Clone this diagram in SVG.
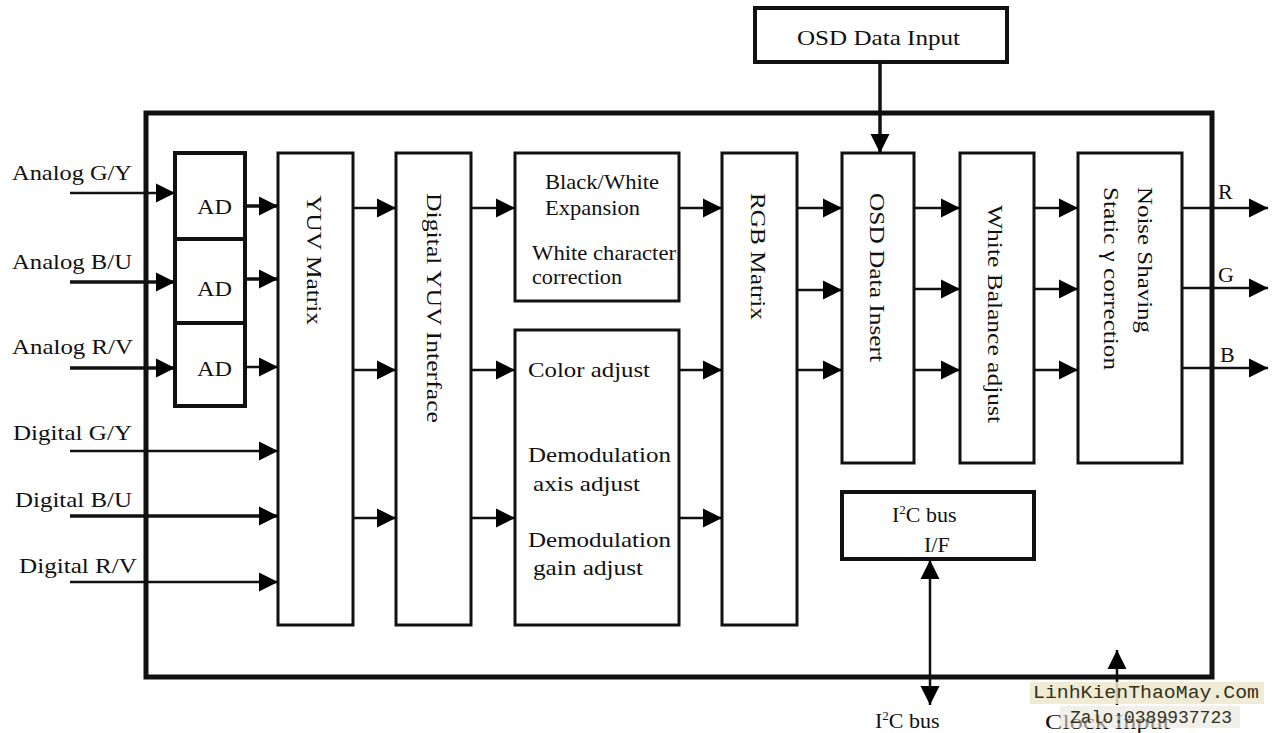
<svg xmlns="http://www.w3.org/2000/svg" width="1276" height="733" viewBox="0 0 1276 733">
<defs>
<marker id="arr" viewBox="0 0 20 20" markerWidth="19" markerHeight="20" refX="20" refY="10" orient="auto" markerUnits="userSpaceOnUse">
<path d="M0,0 L20,10 L0,20 z" fill="#000"/>
</marker>
<style>
.t{font-family:"Liberation Serif","Times New Roman",serif;font-size:22px;fill:#111}
.box{fill:#fff;stroke:#111;stroke-width:3}
.thick{fill:none;stroke:#111;stroke-width:4}
.ln{stroke:#111;stroke-width:2.5;fill:none}
.ln3{stroke:#111;stroke-width:3.5;fill:none}
.wm{font-family:"Liberation Mono","Courier New",monospace;font-size:19px;fill:#34321a}
</style>
</defs>
<rect width="1276" height="733" fill="#fff"/>

<g id="frame"><rect x="146" y="113" width="1066" height="564" fill="none" stroke="#111" stroke-width="5"/></g>

<g id="osd-input"><rect x="755" y="8" width="252" height="54" class="thick" fill="#fff"/><text class="t" x="797" y="45" textLength="163" lengthAdjust="spacingAndGlyphs">OSD Data Input</text></g>

<g id="ad1"><rect x="175" y="153" width="70" height="86" class="thick"/><text class="t" x="197" y="214" textLength="35" lengthAdjust="spacingAndGlyphs">AD</text></g>
<g id="ad2"><rect x="175" y="239" width="70" height="84" class="thick"/><text class="t" x="197" y="296" textLength="35" lengthAdjust="spacingAndGlyphs">AD</text></g>
<g id="ad3"><rect x="175" y="323" width="70" height="83" class="thick"/><text class="t" x="197" y="376" textLength="35" lengthAdjust="spacingAndGlyphs">AD</text></g>

<g id="yuv-matrix"><rect x="278" y="153" width="75" height="472" class="box"/><text class="t" x="307" y="195" transform="rotate(90 307 195)" textLength="130" lengthAdjust="spacingAndGlyphs">YUV Matrix</text></g>
<g id="digital-yuv"><rect x="396" y="153" width="75" height="472" class="box"/><text class="t" x="427" y="193" transform="rotate(90 427 193)" textLength="230" lengthAdjust="spacingAndGlyphs">Digital YUV Interface</text></g>

<g id="bw-expansion"><rect x="515" y="153" width="164" height="148" class="box"/>
<text class="t" x="545" y="189" textLength="114" lengthAdjust="spacingAndGlyphs">Black/White</text>
<text class="t" x="545" y="215" textLength="95" lengthAdjust="spacingAndGlyphs">Expansion</text>
<text class="t" x="532" y="260" textLength="144" lengthAdjust="spacingAndGlyphs">White character</text>
<text class="t" x="532" y="284" textLength="90" lengthAdjust="spacingAndGlyphs">correction</text></g>

<g id="color-adjust"><rect x="515" y="330" width="164" height="295" class="box"/>
<text class="t" x="528" y="377" textLength="122" lengthAdjust="spacingAndGlyphs">Color adjust</text>
<text class="t" x="528" y="462" textLength="143" lengthAdjust="spacingAndGlyphs">Demodulation</text>
<text class="t" x="533" y="491" textLength="107" lengthAdjust="spacingAndGlyphs">axis adjust</text>
<text class="t" x="528" y="547" textLength="143" lengthAdjust="spacingAndGlyphs">Demodulation</text>
<text class="t" x="533" y="575" textLength="110" lengthAdjust="spacingAndGlyphs">gain adjust</text></g>

<g id="rgb-matrix"><rect x="722" y="153" width="75" height="472" class="box"/><text class="t" x="751" y="193" transform="rotate(90 751 193)" textLength="127" lengthAdjust="spacingAndGlyphs">RGB Matrix</text></g>
<g id="osd-insert"><rect x="842" y="153" width="72" height="310" class="box"/><text class="t" x="870" y="193" transform="rotate(90 870 193)" textLength="169" lengthAdjust="spacingAndGlyphs">OSD Data Insert</text></g>
<g id="white-balance"><rect x="960" y="153" width="74" height="310" class="box"/><text class="t" x="988" y="205" transform="rotate(90 988 205)" textLength="218" lengthAdjust="spacingAndGlyphs">White Balance adjust</text></g>
<g id="noise-shaving"><rect x="1078" y="153" width="104" height="310" class="box"/>
<text class="t" x="1138" y="187" transform="rotate(90 1138 187)" textLength="146" lengthAdjust="spacingAndGlyphs">Noise Shaving</text>
<text class="t" x="1104" y="187" transform="rotate(90 1104 187)" textLength="183" lengthAdjust="spacingAndGlyphs">Static γ correction</text></g>

<g id="i2c-if"><rect x="842" y="492" width="192" height="67" class="thick" fill="#fff"/>
<text class="t" x="892" y="522">I<tspan font-size="13" dy="-8">2</tspan><tspan dy="8">C bus</tspan></text>
<text class="t" x="924" y="552">I/F</text></g>

<g id="labels">
<text class="t" x="12" y="180" textLength="120" lengthAdjust="spacingAndGlyphs">Analog G/Y</text>
<text class="t" x="12" y="269" textLength="120" lengthAdjust="spacingAndGlyphs">Analog B/U</text>
<text class="t" x="12" y="354" textLength="121" lengthAdjust="spacingAndGlyphs">Analog R/V</text>
<text class="t" x="13" y="440" textLength="119" lengthAdjust="spacingAndGlyphs">Digital G/Y</text>
<text class="t" x="15" y="507" textLength="117" lengthAdjust="spacingAndGlyphs">Digital B/U</text>
<text class="t" x="19" y="573" textLength="118" lengthAdjust="spacingAndGlyphs">Digital R/V</text>
<text class="t" x="1218" y="199">R</text>
<text class="t" x="1218" y="282">G</text>
<text class="t" x="1220" y="362">B</text>
<text class="t" x="875" y="728">I<tspan font-size="13" dy="-8">2</tspan><tspan dy="8">C bus</tspan></text>
<text class="t" x="1045" y="729" textLength="125" lengthAdjust="spacingAndGlyphs" fill="#555">Clock Input</text>
</g>

<g id="connectors">
<line class="ln" x1="70" y1="193" x2="175" y2="193" marker-end="url(#arr)"/>
<line class="ln3" x1="70" y1="282" x2="175" y2="282" marker-end="url(#arr)"/>
<line class="ln3" x1="70" y1="368" x2="175" y2="368" marker-end="url(#arr)"/>
<line class="ln3" x1="245" y1="206" x2="278" y2="206" marker-end="url(#arr)"/>
<line class="ln3" x1="245" y1="279" x2="278" y2="279" marker-end="url(#arr)"/>
<line class="ln" x1="245" y1="367" x2="278" y2="367" marker-end="url(#arr)"/>
<line class="ln" x1="70" y1="451" x2="278" y2="451" marker-end="url(#arr)"/>
<line class="ln3" x1="70" y1="516" x2="278" y2="516" marker-end="url(#arr)"/>
<line class="ln" x1="70" y1="582" x2="278" y2="582" marker-end="url(#arr)"/>
<line class="ln" x1="353" y1="208" x2="396" y2="208" marker-end="url(#arr)"/>
<line class="ln" x1="353" y1="370" x2="396" y2="370" marker-end="url(#arr)"/>
<line class="ln" x1="353" y1="518" x2="396" y2="518" marker-end="url(#arr)"/>
<line class="ln" x1="471" y1="208" x2="515" y2="208" marker-end="url(#arr)"/>
<line class="ln" x1="471" y1="370" x2="515" y2="370" marker-end="url(#arr)"/>
<line class="ln" x1="471" y1="518" x2="515" y2="518" marker-end="url(#arr)"/>
<line class="ln" x1="679" y1="208" x2="722" y2="208" marker-end="url(#arr)"/>
<line class="ln" x1="679" y1="370" x2="722" y2="370" marker-end="url(#arr)"/>
<line class="ln" x1="679" y1="518" x2="722" y2="518" marker-end="url(#arr)"/>
<line class="ln" x1="797" y1="208" x2="842" y2="208" marker-end="url(#arr)"/>
<line class="ln" x1="797" y1="290" x2="842" y2="290" marker-end="url(#arr)"/>
<line class="ln" x1="797" y1="370" x2="842" y2="370" marker-end="url(#arr)"/>
<line class="ln" x1="914" y1="208" x2="960" y2="208" marker-end="url(#arr)"/>
<line class="ln" x1="914" y1="289" x2="960" y2="289" marker-end="url(#arr)"/>
<line class="ln" x1="914" y1="370" x2="960" y2="370" marker-end="url(#arr)"/>
<line class="ln" x1="1034" y1="208" x2="1078" y2="208" marker-end="url(#arr)"/>
<line class="ln" x1="1034" y1="289" x2="1078" y2="289" marker-end="url(#arr)"/>
<line class="ln" x1="1034" y1="370" x2="1078" y2="370" marker-end="url(#arr)"/>
<line class="ln" x1="1182" y1="208" x2="1268" y2="208" marker-end="url(#arr)"/>
<line class="ln" x1="1182" y1="288" x2="1268" y2="288" marker-end="url(#arr)"/>
<line class="ln" x1="1182" y1="368" x2="1268" y2="368" marker-end="url(#arr)"/>
<line class="ln3" x1="880" y1="62" x2="880" y2="153" marker-end="url(#arr)"/>
<line class="ln" x1="930" y1="630" x2="930" y2="560" marker-end="url(#arr)"/>
<line class="ln" x1="930" y1="630" x2="930" y2="705" marker-end="url(#arr)"/>
<line class="ln" x1="1117" y1="705" x2="1117" y2="650" marker-end="url(#arr)"/>
</g>

<g id="watermark">
<rect x="1030" y="682" width="234" height="22" fill="#ece8cc" opacity="0.85"/>
<rect x="1060" y="706" width="180" height="22" fill="#e6e4dc" opacity="0.6"/>
<text class="wm" x="1033" y="698" textLength="226" lengthAdjust="spacingAndGlyphs">LinhKienThaoMay.Com</text>
<text class="wm" x="1070" y="723" textLength="162" lengthAdjust="spacingAndGlyphs">Zalo:0389937723</text>
</g>
</svg>
